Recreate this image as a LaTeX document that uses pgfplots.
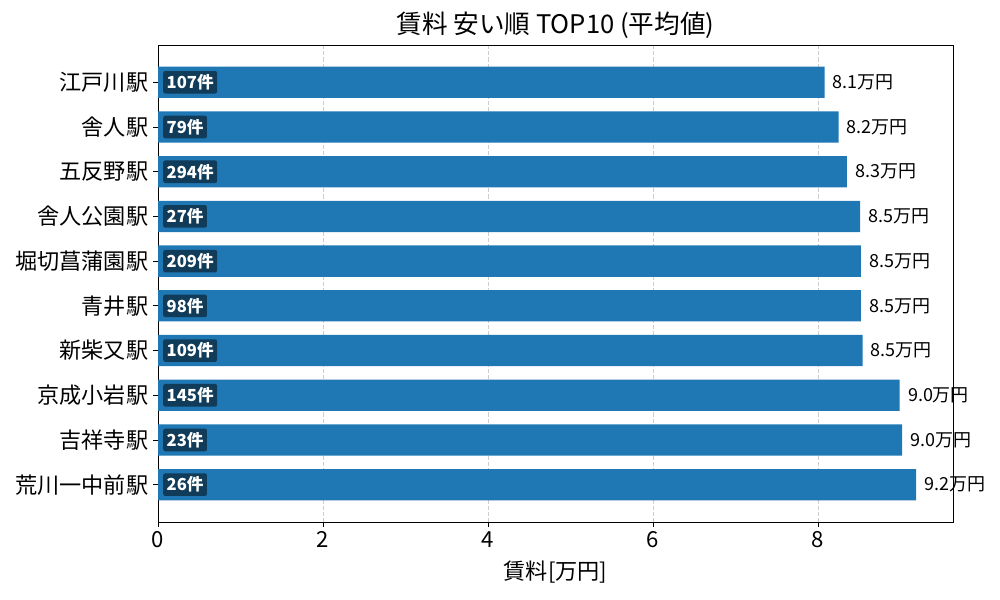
\documentclass[border=0pt]{standalone}
\usepackage{fontspec}
\setmainfont{Noto Sans CJK JP}
\usepackage{pgfplots}
\usepackage{pgfplotstable}
\pgfplotsset{compat=1.18}
\definecolor{barblue}{HTML}{1F77B4}
\definecolor{boxblue}{RGB}{16,60,90}
\definecolor{gridgray}{RGB}{205,205,205}
\pgfplotstableread{
y val lab cnt
0 8.08 8.1万円 107件
1 8.25 8.2万円 79件
2 8.35 8.3万円 294件
3 8.51 8.5万円 27件
4 8.52 8.5万円 209件
5 8.52 8.5万円 98件
6 8.54 8.5万円 109件
7 8.99 9.0万円 145件
8 9.02 9.0万円 23件
9 9.19 9.2万円 26件
}\data
\begin{document}
\begin{tikzpicture}
\path[use as bounding box] (0,0) rectangle (722.7pt,433.62pt);
\begin{axis}[
  at={(114.19pt,56.37pt)}, anchor=south west,
  scale only axis, width=574.55pt, height=344.73pt,
  xmin=0, xmax=9.636, ymin=-0.835, ymax=9.835,
  y dir=reverse,
  ytick={0,...,9},
  yticklabels={江戸川駅,舎人駅,五反野駅,舎人公園駅,堀切菖蒲園駅,青井駅,新柴又駅,京成小岩駅,吉祥寺駅,荒川一中前駅},
  xtick={0,2,4,6,8},
  tick align=outside, xtick pos=bottom, ytick pos=left,
  major tick length=3.5pt,
  tick style={black, line width=0.6pt},
  axis line style={black, line width=0.6pt},
  xmajorgrids,
  grid style={gridgray, dash pattern=on 3pt off 1.5pt, line width=0.6pt},
  /pgf/number format/assume math mode=true,
  ticklabel style={font=\fontsize{16}{19}\selectfont},
  title={賃料 安い順 TOP10 (平均値)},
  title style={font=\fontsize{18.5}{22}\selectfont, at={(axis description cs:0.5,1)}, anchor=center, yshift=8pt},
  xlabel={賃料[万円]},
  xlabel style={font=\fontsize{16}{19}\selectfont, at={(axis description cs:0.5,0)}, anchor=center, yshift=-36.1pt},
]
\addplot[xbar, fill=barblue, draw=none, bar width=0.7,
  nodes near coords, point meta=explicit symbolic,
  every node near coord/.append style={anchor=west, inner sep=0pt, xshift=5.8pt, font=\fontsize{13}{15}\selectfont, text=black}]
  table[x=val, y=y, meta=lab] {\data};
\addplot[draw=none, mark=none,
  nodes near coords, point meta=explicit symbolic,
  every node near coord/.append style={anchor=west, inner sep=2.5pt, fill=boxblue, rounded corners=1.5pt, text=white, font=\fontsize{12}{14}\selectfont\bfseries}]
  table[x expr=0.06, y=y, meta=cnt] {\data};
\end{axis}
\end{tikzpicture}
\end{document}
